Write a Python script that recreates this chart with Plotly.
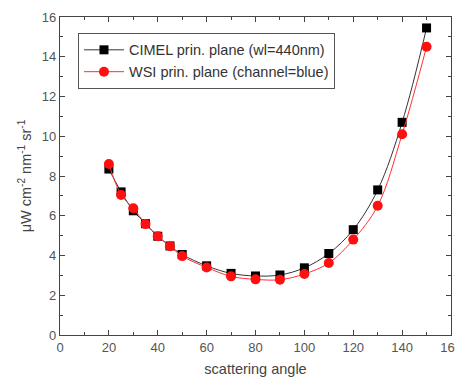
import plotly.graph_objects as go

angles = [20, 25, 30, 35, 40, 45, 50, 60, 70, 80, 90, 100, 110, 120, 130, 140, 150]
cimel = [8.35, 7.2, 6.25, 5.6, 4.97, 4.48, 4.05, 3.48, 3.1, 2.97, 3.02, 3.38, 4.1, 5.3, 7.3, 10.7, 15.45]
wsi = [8.6, 7.05, 6.38, 5.58, 4.97, 4.47, 3.97, 3.4, 2.95, 2.8, 2.78, 3.07, 3.62, 4.8, 6.5, 10.1, 14.5]

fig = go.Figure()
fig.add_trace(go.Scatter(x=angles, y=cimel, mode="lines+markers",
                         name="CIMEL prin. plane (wl=440nm)",
                         line=dict(color="#333333", width=1, shape="spline"),
                         marker=dict(symbol="square", size=9, color="black")))
fig.add_trace(go.Scatter(x=angles, y=wsi, mode="lines+markers",
                         name="WSI prin. plane (channel=blue)",
                         line=dict(color="#ff3030", width=1, shape="spline"),
                         marker=dict(symbol="circle", size=10, color="#ff1010")))

axis_common = dict(showline=True, linecolor="#444444", linewidth=1.2, mirror="ticks",
                   ticks="inside", ticklen=5, tickcolor="#444444", showgrid=False,
                   zeroline=False, automargin=False,
                   tickfont=dict(family="Arial, Liberation Sans", size=13, color="#555555"))

fig.update_xaxes(range=[0, 160], dtick=20, title=dict(text="scattering angle", standoff=10,
                 font=dict(family="Arial, Liberation Sans", size=14.5, color="#444444")),
                 minor=dict(dtick=10, ticks="inside", ticklen=3, tickcolor="#444444"), **axis_common)
fig.update_yaxes(range=[0, 16], dtick=2, title=dict(text="μW cm<sup>-2</sup> nm<sup>-1</sup> sr<sup>-1</sup>", standoff=6,
                 font=dict(family="Arial, Liberation Sans", size=14.5, color="#444444")),
                 minor=dict(dtick=1, ticks="inside", ticklen=3, tickcolor="#444444"), **axis_common)

# page body has an 8px default margin, so the figure is sized/offset accordingly
fig.update_layout(width=455, height=370, margin=dict(l=52, r=12, t=9, b=43, autoexpand=False),
                  plot_bgcolor="white", paper_bgcolor="white",
                  legend=dict(x=0.046, y=0.95, xanchor="left", yanchor="top",
                              bordercolor="#555555", borderwidth=1, bgcolor="white",
                              font=dict(family="Arial, Liberation Sans", size=14.5, color="#333333"),
                              tracegroupgap=0, itemwidth=40))
fig.write_html("out.html")
